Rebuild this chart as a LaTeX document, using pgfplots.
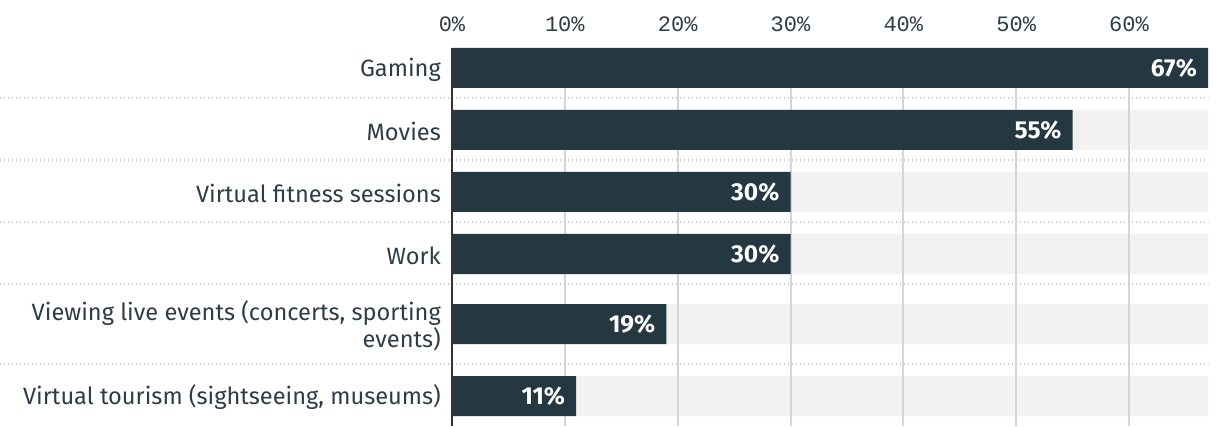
\documentclass[border=0pt]{standalone}
\usepackage{fontspec}
\setmainfont{Fira Sans}
\setmonofont{Liberation Mono}
\usepackage{pgfplots}
\pgfplotsset{compat=1.18}
\definecolor{barc}{HTML}{253842}
\definecolor{trackc}{HTML}{F2F2F2}
\definecolor{gridc}{HTML}{D3D6D9}
\definecolor{sepc}{HTML}{C8C8C8}
\definecolor{txtc}{HTML}{2E3C45}
\definecolor{axisc}{HTML}{333333}
\begin{document}
\begin{tikzpicture}
\begin{axis}[
  at={(0,0)}, anchor=south west,
  set layers,
  scale only axis, width=756pt, height=378pt,
  xmin=0, xmax=67, ymin=-426, ymax=-48,
  axis line style={draw=none},
  tick style={draw=none},
  xmajorgrids, grid style={gridc, line width=2pt},
  xtick={0,10,20,30,40,50,60},
  xticklabels={0\%,10\%,20\%,30\%,40\%,50\%,60\%},
  xticklabel pos=upper,
  xticklabel style={anchor=south, inner sep=0pt, yshift=16pt, text=txtc, font=\fontsize{22}{26}\selectfont\ttfamily},
  ytick={-68,-130,-192,-254,-324,-396},
  yticklabels={Gaming, Movies, Virtual fitness sessions, Work, {Viewing live events (concerts, sporting\\events)}, {Virtual tourism (sightseeing, museums)}},
  yticklabel style={align=right, anchor=east, inner sep=0pt, xshift=-11pt, yshift=-1.5pt, text=txtc, font=\fontsize{23.6}{27}\selectfont},
  clip=false,
]
\addplot[xbar, bar shift=0pt, bar width=40pt, fill=trackc, draw=none, on layer=axis background]
  coordinates {(67,-68) (67,-130) (67,-192) (67,-254) (67,-324) (67,-396)};
\addplot[xbar, bar shift=0pt, bar width=40pt, fill=barc, draw=none,
  point meta=x,
  /pgf/number format/assume math mode=true,
  nodes near coords={\pgfmathprintnumber{\pgfplotspointmeta}\%},
  every node near coord/.append style={anchor=east, xshift=-11pt, inner sep=0pt, text=white, font=\fontsize{24.5}{27}\selectfont\bfseries}]
  coordinates {(67,-68) (55,-130) (30,-192) (30,-254) (19,-324) (11,-396)};
\foreach \yy in {-98,-160,-222,-284,-364} {
  \edef\tmp{\noexpand\draw[sepc, line width=1.5pt, dash pattern=on 1.5pt off 2.5pt] (axis cs:-40.06,\yy) -- (axis cs:67,\yy);}
  \tmp
}
\draw[axisc, line width=2.5pt] (axis cs:0,-48) -- (axis cs:0,-426);
\end{axis}
\pgfresetboundingbox
\path[use as bounding box] (-452pt,0pt) rectangle (768pt,426pt);
\end{tikzpicture}
\end{document}
